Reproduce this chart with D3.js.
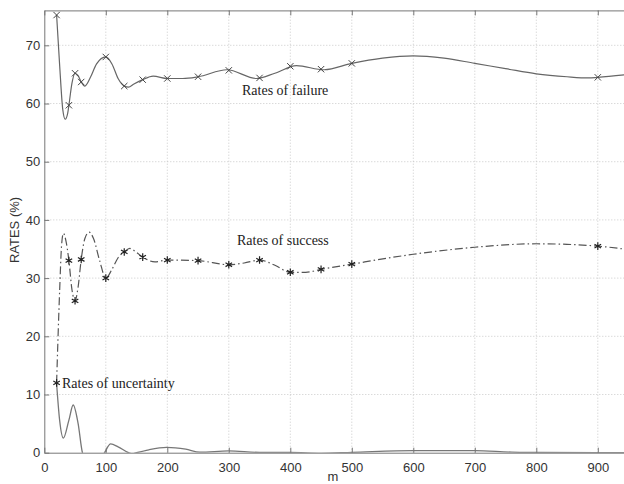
<!DOCTYPE html>
<meta charset="utf-8">
<title>Rates vs m</title>
<script src="https://d3js.org/d3.v7.min.js"></script>
<style>
  body { margin: 0; background: #fff; }
  .tick text { font-family: "Liberation Sans", Arial, sans-serif; font-size: 13px; fill: #333; }
  .note { font-family: "Liberation Serif", "Times New Roman", serif; font-size: 14px; fill: #222; }
</style>
<body>
<svg class=chart></svg>
<script>

// marker positions
var m_values = [20, 40, 50, 60, 100, 130, 160, 200, 250, 300, 350, 400, 450, 500, 900];
var failure_rates = [75.2, 59.7, 65.2, 63.7, 68.0, 63.0, 64.1, 64.3, 64.6, 65.7, 64.4, 66.4, 65.9, 66.9, 64.5];
var success_rates = [12.0, 33.0, 26.1, 33.2, 30.0, 34.5, 33.6, 33.1, 33.0, 32.3, 33.1, 31.0, 31.5, 32.4, 35.5];

// the drawn curves, read along their length
var failure_line_m = [20, 25, 30, 34, 38, 40, 45, 50, 55, 60, 66, 75, 85, 100, 110, 120, 130, 137, 145, 160, 177, 200, 225, 250, 297, 345, 375, 410, 455, 500, 550, 600, 650, 700, 750, 800, 850, 885, 900, 950];
var failure_line = [75.2, 66.5, 59.0, 57.3, 58.3, 59.7, 63.5, 65.2, 64.8, 63.7, 63.0, 64.5, 66.8, 68.0, 66.8, 64.3, 63.0, 62.8, 63.3, 64.1, 64.7, 64.3, 64.3, 64.6, 65.8, 64.3, 65.2, 66.5, 65.8, 66.9, 67.8, 68.2, 67.8, 66.9, 66.0, 65.1, 64.6, 64.4, 64.5, 65.0];

var success_line_m = [20, 25, 28, 31, 35, 40, 45, 50, 55, 60, 66, 73, 80, 90, 100, 110, 120, 130, 139, 150, 160, 180, 200, 250, 300, 325, 350, 375, 400, 425, 450, 500, 600, 700, 800, 850, 900, 950];
var success_line = [12.0, 28.0, 35.5, 37.7, 36.5, 33.0, 28.0, 26.1, 28.5, 33.2, 36.8, 37.9, 36.8, 33.0, 30.0, 31.5, 33.5, 34.5, 35.1, 34.4, 33.6, 32.8, 33.1, 33.0, 32.3, 32.6, 33.1, 32.2, 31.0, 31.0, 31.5, 32.4, 34.1, 35.3, 35.9, 35.8, 35.5, 34.9];

var uncert_m = [20, 25, 31, 40, 47, 55, 62, 75, 90, 98, 108, 120, 137, 143, 150, 170, 199, 230, 253, 300, 350, 400, 450, 500, 600, 700, 760, 800, 900, 1000];
var uncert_rates = [11.9, 5.5, 2.5, 5.6, 8.2, 5.0, 0.0, -2.5, -1.5, 0.0, 1.5, 1.0, 0.0, -0.2, 0.0, 0.5, 0.9, 0.6, 0.1, 0.3, 0.05, 0.05, -0.1, 0.05, 0.35, 0.35, 0.1, 0.05, 0.0, 0.0];

var x_ticks = [0, 100, 200, 300, 400, 500, 600, 700, 800, 900];
var y_ticks = [0, 10, 20, 30, 40, 50, 60, 70];

var width = 624, height = 484;
var plot_left = 44.3, plot_top = 10.4, plot_bottom = 452.7;
var x = d3.scaleLinear().domain([0, 1000]).range([plot_left, plot_left + 615]);
var y = d3.scaleLinear().domain([0, 76]).range([plot_bottom, plot_top]);

var svg = d3.select(".chart").attr("width", width).attr("height", height);

svg.append("clipPath").attr("id", "plot")
  .append("rect")
    .attr("x", x(0)).attr("y", y(76))
    .attr("width", x(1000) - x(0)).attr("height", y(0) - y(76));

// grid
var grid = svg.append("g").attr("stroke", "#bdbdbd").attr("stroke-dasharray", "1,2").attr("stroke-width", 0.8);
grid.selectAll(".gx").data(x_ticks.slice(1)).enter().append("line")
  .attr("x1", d => x(d)).attr("x2", d => x(d)).attr("y1", y(0)).attr("y2", y(76));
grid.selectAll(".gy").data(y_ticks.slice(1)).enter().append("line")
  .attr("x1", x(0)).attr("x2", x(1000)).attr("y1", d => y(d)).attr("y2", d => y(d));

// axes (matlab style, ticks inside)
svg.append("g").attr("transform", "translate(0," + y(0) + ")")
  .call(d3.axisBottom(x).tickValues(x_ticks).tickSizeInner(-5).tickSizeOuter(0).tickPadding(10));
svg.append("g").attr("transform", "translate(0," + y(76) + ")")
  .call(d3.axisTop(x).tickValues(x_ticks).tickSizeInner(-5).tickSizeOuter(0).tickFormat(""));
svg.append("g").attr("transform", "translate(" + x(0) + ",0)")
  .call(d3.axisLeft(y).tickValues(y_ticks).tickSizeInner(-5).tickSizeOuter(0).tickPadding(4));
svg.selectAll(".domain, .tick line").attr("stroke", "#777");

svg.append("text")
  .attr("x", 333).attr("y", 481).attr("text-anchor", "middle")
  .style("font-family", "Liberation Sans, Arial, sans-serif").style("font-size", "13px").attr("fill", "#333")
  .text("m");
svg.append("text")
  .attr("transform", "translate(19,230) rotate(-90)")
  .attr("text-anchor", "middle")
  .style("font-family", "Liberation Sans, Arial, sans-serif").style("font-size", "13px").attr("fill", "#333")
  .text("RATES (%)");

var plot = svg.append("g").attr("clip-path", "url(#plot)");

function line_of(ms) {
  return d3.line().curve(d3.curveMonotoneX)
    .x((d, i) => x(ms[i])).y(d => y(d));
}

plot.append("path").datum(uncert_rates)
  .attr("d", line_of(uncert_m))
  .attr("fill", "none").attr("stroke", "#777").attr("stroke-width", 1.3);

plot.append("path").datum(failure_line)
  .attr("d", line_of(failure_line_m))
  .attr("fill", "none").attr("stroke", "#666").attr("stroke-width", 1.2);

plot.append("path").datum(success_line)
  .attr("d", line_of(success_line_m))
  .attr("fill", "none").attr("stroke", "#555").attr("stroke-width", 1.2)
  .attr("stroke-dasharray", "8,3,1.5,3");

// markers
var times = d3.symbol().type(d3.symbolTimes).size(28);
var star = d3.symbol().type(d3.symbolAsterisk).size(40);
plot.selectAll(".fm").data(failure_rates).enter().append("path")
  .attr("transform", (d, i) => "translate(" + x(m_values[i]) + "," + y(d) + ")")
  .attr("d", times())
  .attr("fill", "none").attr("stroke", "#444").attr("stroke-width", 1);
plot.selectAll(".sm").data(success_rates).enter().append("path")
  .attr("transform", (d, i) => "translate(" + x(m_values[i]) + "," + y(d) + ")")
  .attr("d", star())
  .attr("fill", "none").attr("stroke", "#222").attr("stroke-width", 1.2);

svg.append("text").attr("class", "note").attr("x", 242).attr("y", 95).text("Rates of failure");
svg.append("text").attr("class", "note").attr("x", 237).attr("y", 245).text("Rates of success");
svg.append("text").attr("class", "note").attr("x", 62).attr("y", 388).text("Rates of uncertainty");

</script>
</body>
